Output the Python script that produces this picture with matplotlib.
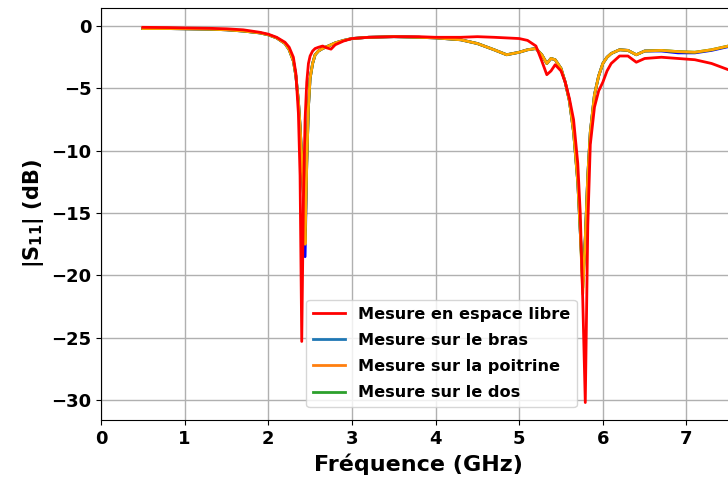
import numpy as np
import matplotlib.pyplot as plt
from matplotlib.lines import Line2D

# frequency points (GHz)
freq = [0.5, 0.8, 1.0, 1.3, 1.5, 1.7, 1.9, 2.0, 2.1, 2.2, 2.25, 2.3, 2.33, 2.36, 2.38,
        2.40, 2.42, 2.44, 2.46, 2.48, 2.5, 2.53, 2.56, 2.6, 2.65, 2.7, 2.75, 2.8, 2.9,
        3.0, 3.2, 3.5, 3.8, 4.0, 4.3, 4.5, 4.7, 4.85, 5.0, 5.1, 5.2, 5.27, 5.33, 5.38,
        5.43, 5.5, 5.55, 5.6, 5.65, 5.7, 5.73, 5.76, 5.79, 5.82, 5.85, 5.9, 5.95, 6.0,
        6.05, 6.1, 6.2, 6.3, 6.4, 6.5, 6.7, 6.9, 7.1, 7.3, 7.5, 7.7, 8.0]

s11_libre = [-0.10, -0.12, -0.15, -0.18, -0.22, -0.30, -0.50, -0.65, -0.90, -1.30, -1.70,
             -2.50, -3.8, -7.0, -12.0, -25.3, -14.0, -7.5, -4.5, -3.0, -2.4, -2.0, -1.8,
             -1.7, -1.6, -1.75, -1.85, -1.5, -1.2, -1.0, -0.9, -0.85, -0.85, -0.9, -0.9,
             -0.85, -0.9, -0.95, -1.0, -1.15, -1.6, -2.8, -3.9, -3.6, -3.1, -3.6, -4.5,
             -5.8, -7.5, -11.0, -15.0, -22.0, -30.2, -16.0, -9.5, -6.5, -5.2, -4.5, -3.6,
             -3.0, -2.4, -2.4, -2.9, -2.6, -2.5, -2.6, -2.7, -3.0, -3.5, -4.0, -4.8]

s11_bras = [-0.20, -0.20, -0.22, -0.25, -0.30, -0.40, -0.55, -0.70, -0.95, -1.40, -1.9,
            -2.8, -4.0, -6.0, -8.0, -10.5, -13.5, -18.5, -11.0, -6.5, -4.2, -3.0, -2.3,
            -2.0, -1.8, -1.65, -1.5, -1.35, -1.15, -1.0, -0.9, -0.85, -0.9, -0.95, -1.1,
            -1.4, -1.9, -2.3, -2.1, -1.9, -1.8, -2.3, -3.0, -2.6, -2.7, -3.4, -4.5,
            -6.0, -8.5, -12.5, -16.5, -20.5, -17.0, -12.0, -8.5, -5.5, -4.0, -3.0, -2.5,
            -2.2, -1.9, -1.95, -2.3, -2.0, -2.0, -2.15, -2.15, -1.95, -1.65, -1.45, -1.25]

s11_poitrine = [-0.20, -0.20, -0.22, -0.25, -0.30, -0.40, -0.55, -0.70, -0.95, -1.40, -1.9,
                -2.8, -4.0, -6.0, -8.0, -10.5, -13.5, -17.5, -11.0, -6.5, -4.2, -3.0, -2.3,
                -2.0, -1.8, -1.65, -1.5, -1.35, -1.15, -1.0, -0.9, -0.85, -0.9, -0.95, -1.1,
                -1.4, -1.9, -2.3, -2.1, -1.9, -1.8, -2.3, -3.0, -2.6, -2.7, -3.4, -4.5,
                -6.0, -8.5, -12.5, -16.5, -21.5, -17.0, -12.0, -8.5, -5.5, -4.0, -3.0, -2.5,
                -2.2, -1.9, -1.95, -2.3, -2.0, -1.95, -2.05, -2.1, -1.9, -1.6, -1.4, -1.2]

s11_dos = [-0.20, -0.20, -0.22, -0.25, -0.30, -0.40, -0.55, -0.70, -0.95, -1.40, -1.9,
           -2.8, -4.0, -6.0, -8.0, -10.5, -13.5, -17.3, -11.0, -6.5, -4.2, -3.0, -2.3,
           -2.0, -1.8, -1.65, -1.5, -1.35, -1.15, -1.0, -0.9, -0.85, -0.9, -0.95, -1.1,
           -1.4, -1.9, -2.3, -2.1, -1.9, -1.8, -2.3, -3.0, -2.6, -2.7, -3.4, -4.5,
           -6.0, -8.5, -12.5, -16.5, -21.0, -17.0, -12.0, -8.5, -5.5, -4.0, -3.0, -2.5,
           -2.2, -1.9, -1.95, -2.3, -2.0, -1.95, -2.05, -2.1, -1.9, -1.6, -1.4, -1.2]

labels = ["Mesure en espace libre", "Mesure sur le bras",
          "Mesure sur la poitrine", "Mesure sur le dos"]

fig = plt.figure(figsize=(7.28, 4.8), dpi=100)
# axes run just past the right edge of the picture, like the cropped original
ax = fig.add_axes([101/728, 60/480, 634/728, 412/480])

ax.plot(freq, s11_bras, color='blue', lw=2, zorder=2)
ax.plot(freq, s11_dos, color='green', lw=2, zorder=3)
ax.plot(freq, s11_poitrine, color='orange', lw=2, zorder=4)
ax.plot(freq, s11_libre, color='red', lw=2, zorder=5)

ax.set_xlim(0, 7.58)
ax.set_ylim(-31.6, 1.45)
ax.set_xticks(range(0, 8))
ax.set_yticks([0, -5, -10, -15, -20, -25, -30])
ax.grid(True, color='#b0b0b0', lw=1)
ax.spines['right'].set_visible(False)

for t in ax.get_xticklabels() + ax.get_yticklabels():
    t.set_fontweight('bold')
    t.set_fontsize(13)

ax.set_xlabel("Fréquence (GHz)", fontsize=16, fontweight='bold')
ax.set_ylabel(r"|S$_\mathbf{11}$| (dB)", fontsize=15, fontweight='bold')

handles = [Line2D([], [], color='red', lw=2),
           Line2D([], [], color='tab:blue', lw=2),
           Line2D([], [], color='tab:orange', lw=2),
           Line2D([], [], color='tab:green', lw=2)]
ax.legend(handles, labels, loc='lower left', bbox_to_anchor=(0.324, 0.032),
          borderaxespad=0, labelspacing=0.7, prop={'weight': 'bold', 'size': 11.6})

fig.savefig("out.png", dpi=100)
